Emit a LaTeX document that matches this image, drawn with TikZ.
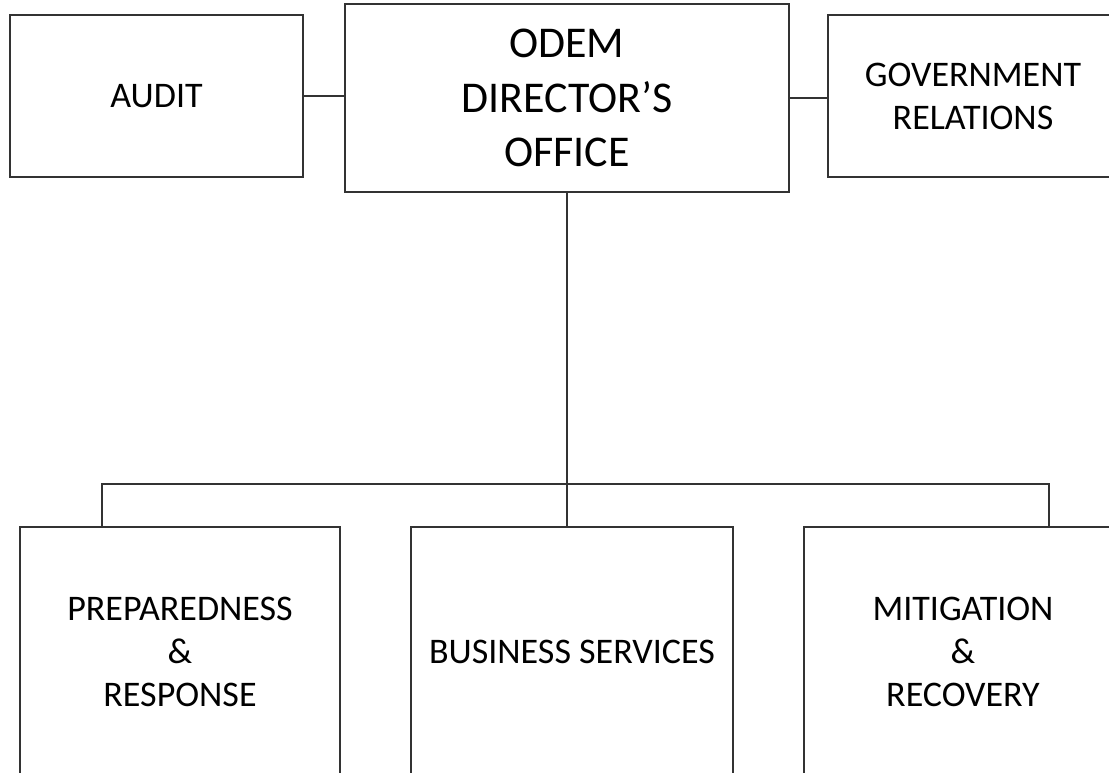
\documentclass[tikz,border=0pt]{standalone}
\usepackage{fontspec}
\setmainfont{Carlito}
\usetikzlibrary{calc, positioning}

\tikzset{
  unit/.style={draw=black!80, line width=0.9pt, fill=white, align=center, inner sep=0pt,
    font=\fontsize{20.5}{24.5}\selectfont},
  head/.style={unit, font=\fontsize{25}{31}\selectfont},
  link/.style={draw=black!80, line width=0.9pt}
}

\begin{document}
\begin{tikzpicture}[x=0.02cm,y=-0.02cm]
\useasboundingbox (0,0) rectangle (1109,772);
\clip (0,0) rectangle (1109,772);

\node[head, minimum width=8.88cm, minimum height=3.76cm] (odem) at (567,98) {ODEM\\DIRECTOR’S\\OFFICE};
\node[unit, minimum width=5.86cm, minimum height=3.24cm] (audit) at (156.5,96) {AUDIT};
\node[unit, minimum width=5.8cm, minimum height=3.24cm] (gov) at (973,96) {GOVERNMENT\\RELATIONS};

\node[unit, minimum width=6.4cm, minimum height=5.0cm] (prep) at (180,652) {PREPAREDNESS\\\&\\RESPONSE};
\node[unit, minimum width=6.44cm, minimum height=5.0cm] (bus) at (572,652) {BUSINESS SERVICES};
\node[unit, minimum width=6.36cm, minimum height=5.0cm] (mit) at (963,652) {MITIGATION\\\&\\RECOVERY};

\coordinate (left) at (102,484);
\coordinate (right) at (1049,484);

\draw[link] (audit.east) -- (audit.east -| odem.west);
\draw[link] (odem.east) -- (odem.east -| gov.west);
\draw[link] (odem.south) -- (odem.south |- bus.north);
\draw[link] (left |- prep.north) -- (left) -- (right) -- (right |- mit.north);

\end{tikzpicture}
\end{document}
